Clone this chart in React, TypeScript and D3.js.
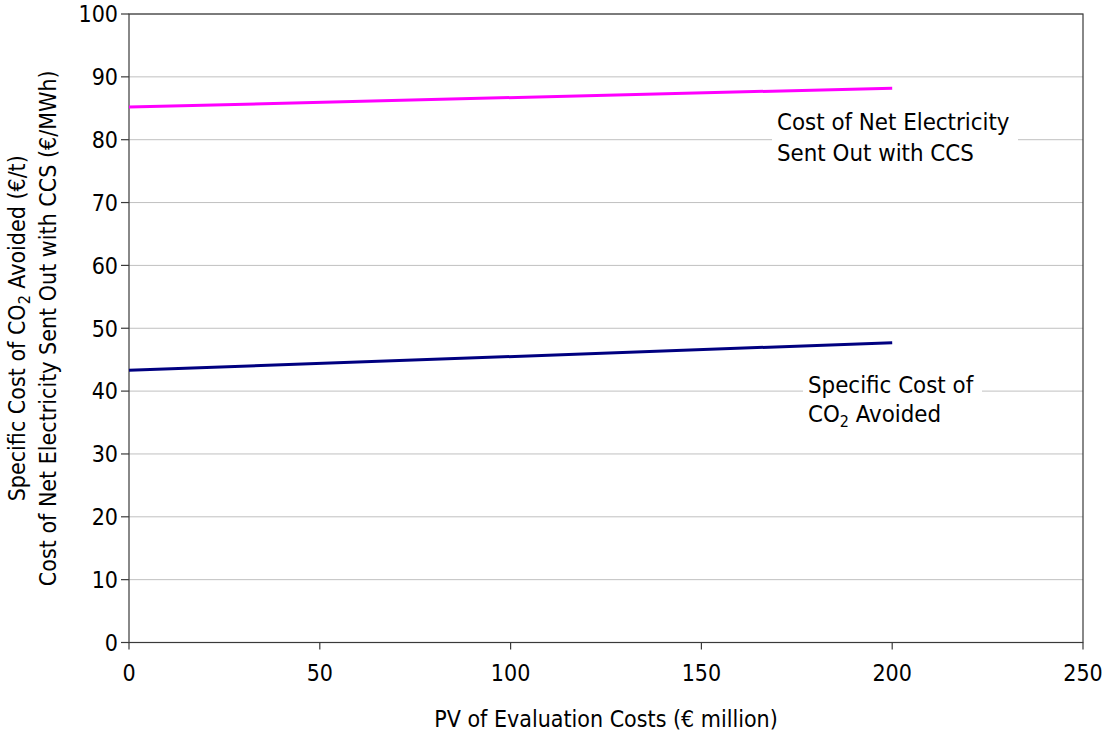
import React from "react";
import * as d3 from "d3";

const xValues = [0, 200];
const electricityCost = [85.2, 88.2];
const co2AvoidedCost = [43.3, 47.7];
const yTicks = [0, 10, 20, 30, 40, 50, 60, 70, 80, 90, 100];
const xTicks = [0, 50, 100, 150, 200, 250];

const W = 1103;
const H = 733;
const M = { left: 129, right: 1083, top: 14, bottom: 642.5 };
const FONT = "'DejaVu Sans Condensed', 'DejaVu Sans', sans-serif";
const FS = 23;
const LFS = 23.8;

export default function App() {
  const x = d3.scaleLinear().domain([0, 250]).range([M.left, M.right]);
  const y = d3.scaleLinear().domain([0, 100]).range([M.bottom, M.top]);
  const line = d3
    .line<[number, number]>()
    .x((d) => x(d[0]))
    .y((d) => y(d[1]));
  const elecPts = xValues.map((v, i) => [v, electricityCost[i]] as [number, number]);
  const co2Pts = xValues.map((v, i) => [v, co2AvoidedCost[i]] as [number, number]);
  const axisColor = "#3a3a3a";

  return (
    <svg
      width={W}
      height={H}
      style={{ position: "absolute", left: 0, top: 0, background: "#fff" }}
      fontFamily={FONT}
      fontStretch="condensed"
    >
      <rect x={0} y={0} width={W} height={H} fill="#fff" />
      {/* gridlines */}
      {yTicks.map((t) => (
        <line key={"g" + t} x1={M.left} x2={M.right} y1={y(t)} y2={y(t)} stroke="#c0c0c0" strokeWidth={1} />
      ))}
      {/* frame */}
      <rect x={M.left} y={M.top} width={M.right - M.left} height={M.bottom - M.top} fill="none" stroke={axisColor} strokeWidth={1.2} />
      {/* y ticks */}
      {yTicks.map((t) => (
        <g key={"y" + t}>
          <line x1={M.left - 8} x2={M.left} y1={y(t)} y2={y(t)} stroke={axisColor} strokeWidth={1.2} />
          <text x={M.left - 11} y={y(t)} dy="0.36em" textAnchor="end" fontSize={FS} fill="#000">
            {t}
          </text>
        </g>
      ))}
      {/* x ticks */}
      {xTicks.map((t) => (
        <g key={"x" + t}>
          <line x1={x(t)} x2={x(t)} y1={M.bottom} y2={M.bottom + 7} stroke={axisColor} strokeWidth={1.2} />
          <text x={x(t)} y={681} textAnchor="middle" fontSize={FS} fill="#000">
            {t}
          </text>
        </g>
      ))}
      {/* series */}
      <path d={line(elecPts) || ""} fill="none" stroke="#ff00ff" strokeWidth={3} />
      <path d={line(co2Pts) || ""} fill="none" stroke="#000080" strokeWidth={3} />
      {/* label boxes */}
      <rect x={772} y={102} width={246} height={70} fill="#fff" />
      <text x={777} y={129.5} fontSize={LFS} fill="#000">Cost of Net Electricity</text>
      <text x={777} y={160.5} fontSize={LFS} fill="#000">Sent Out with CCS</text>
      <rect x={803} y={368} width={179} height={62} fill="#fff" />
      <text x={808} y={393} fontSize={LFS} fill="#000">Specific Cost of</text>
      <text x={808} y={422} fontSize={LFS} fill="#000">
        CO<tspan fontSize={16} dy={5}>2</tspan>
        <tspan dy={-5}> Avoided</tspan>
      </text>
      {/* axis titles */}
      <text x={(M.left + M.right) / 2} y={727} textAnchor="middle" fontSize={FS} fill="#000">
        PV of Evaluation Costs (€ million)
      </text>
      <g transform={`translate(25, ${(M.top + M.bottom) / 2}) rotate(-90)`}>
        <text x={0} y={0} textAnchor="middle" fontSize={FS} fill="#000">
          Specific Cost of CO<tspan fontSize={16} dy={5}>2</tspan>
          <tspan dy={-5}> Avoided (€/t)</tspan>
        </text>
      </g>
      <g transform={`translate(56, ${(M.top + M.bottom) / 2}) rotate(-90)`}>
        <text x={0} y={0} textAnchor="middle" fontSize={FS} fill="#000">
          Cost of Net Electricity Sent Out with CCS (€/MWh)
        </text>
      </g>
    </svg>
  );
}
